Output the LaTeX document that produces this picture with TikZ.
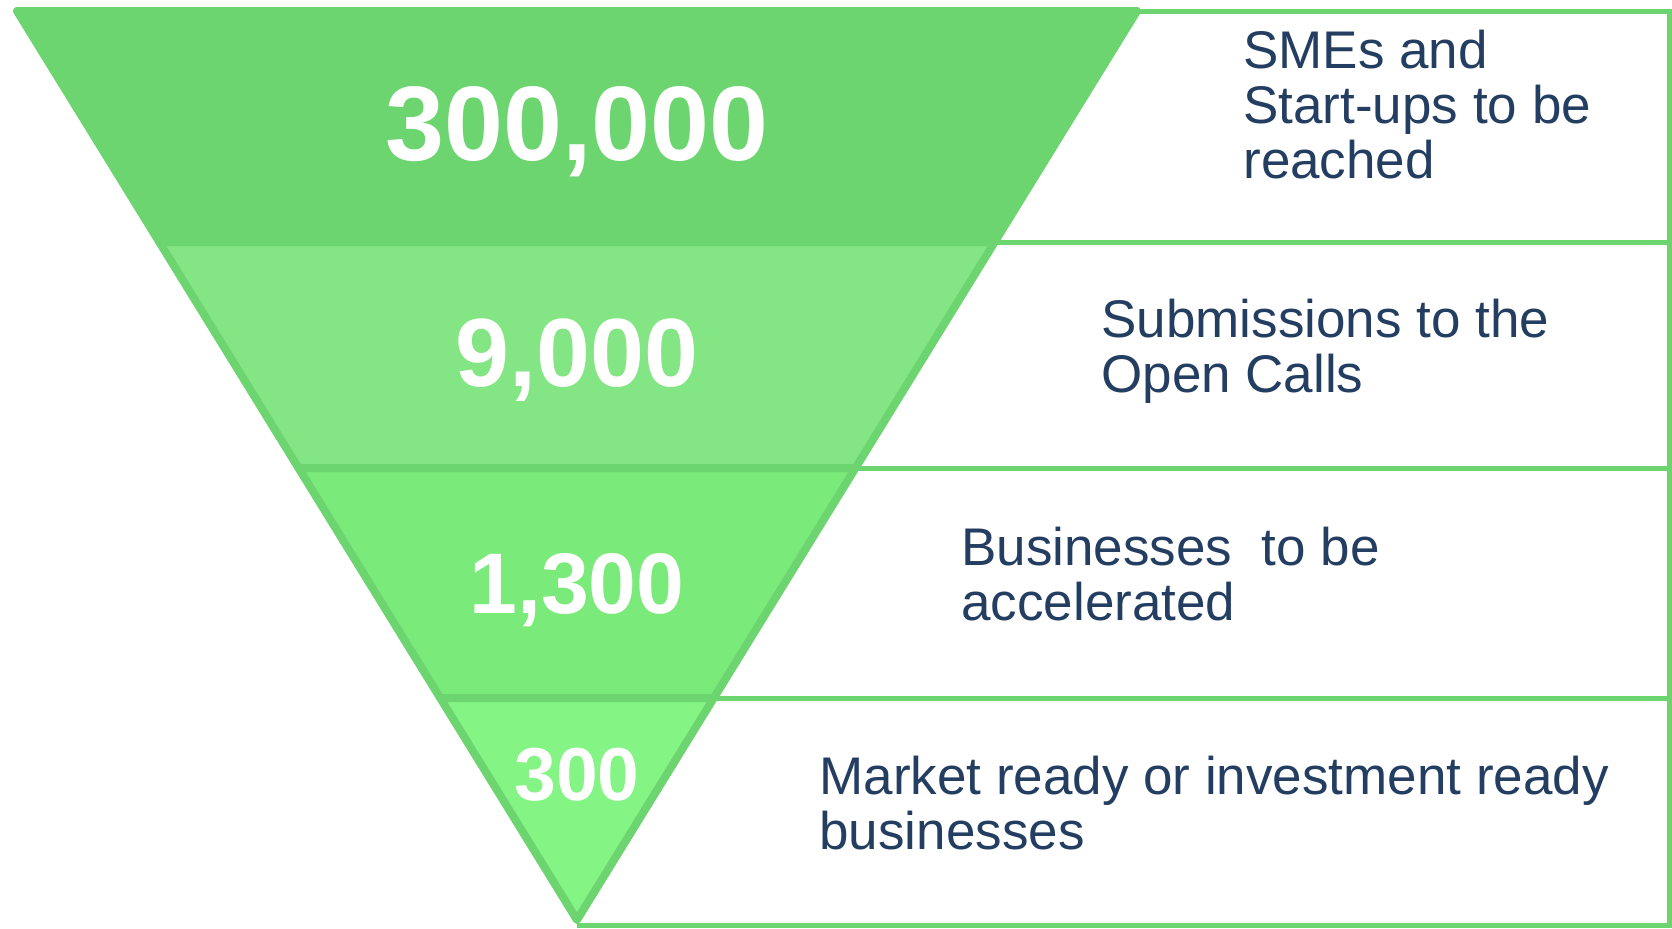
\documentclass[tikz,border=0pt]{standalone}
\usepackage{fontspec}
\setmainfont{Liberation Sans}
\usepackage{tikz}

\definecolor{edge}{RGB}{108,213,111}
\definecolor{bandA}{RGB}{108,213,111}
\definecolor{bandB}{RGB}{132,229,132}
\definecolor{bandC}{RGB}{122,234,122}
\definecolor{bandD}{RGB}{132,244,132}
\definecolor{navy}{RGB}{36,62,98}

\tikzset{
  band/.style={draw=edge, line width=4pt, line join=round},
  frame/.style={draw=edge, line width=2.5pt},
  bignum/.style={text=white, anchor=base, inner sep=0pt,
    font=\bfseries\fontsize{#1}{#1}\selectfont},
  blurb/.style={text=navy, anchor=base west, align=left, inner sep=0pt,
    font=\fontsize{26.5}{27.5}\selectfont},
}

\begin{document}
\begin{tikzpicture}[x=0.5pt,y=-0.5pt]
      \useasboundingbox[fill=white] (0,0) rectangle (1672,928);
        \coordinate (tl) at (17,11);
        \coordinate (tr) at (1137,11);
        \coordinate (l1) at (159.3,242);
        \coordinate (r1) at (994.7,242);
        \coordinate (l2) at (298.5,468);
        \coordinate (r2) at (855.5,468);
        \coordinate (l3) at (440.2,698);
        \coordinate (r3) at (713.8,698);
        \coordinate (apex) at (577,920);
        \coordinate (foot) at (577,925);
        \coordinate (east) at (1669.5,11);
        \draw[frame] (tr) -- (east) -- (east |- foot) -- (foot);
        \draw[frame] (r1) -- (r1 -| east);
        \draw[frame] (r2) -- (r2 -| east);
        \draw[frame] (r3) -- (r3 -| east);
        \draw[band, fill=bandA] (tl) -- (tr) -- (r1) -- (l1) -- cycle;
        \draw[band, fill=bandB] (l1) -- (r1) -- (r2) -- (l2) -- cycle;
        \draw[band, fill=bandC] (l2) -- (r2) -- (r3) -- (l3) -- cycle;
        \draw[band, fill=bandD] (l3) -- (r3) -- (apex) -- cycle;
        \node[bignum=53] (n1) at (577,160) {300,000};
        \node[bignum=48.5] (n2) at (577,386) {9,000};
        \node[bignum=43] (n3) at (577,613) {1,300};
        \node[bignum=37.5] (n4) at (577,800) {300};
        \node[blurb] (t1) at (1243,178) {SMEs and\\Start-ups to be\\reached};
        \node[blurb] (t2) at (1101,392) {Submissions to the\\Open Calls};
        \node[blurb] (t3) at (961,620) {Businesses~ to be\\accelerated};
        \node[blurb] (t4) at (819,849) {Market ready or investment ready\\businesses};
    \end{tikzpicture}
\end{document}
